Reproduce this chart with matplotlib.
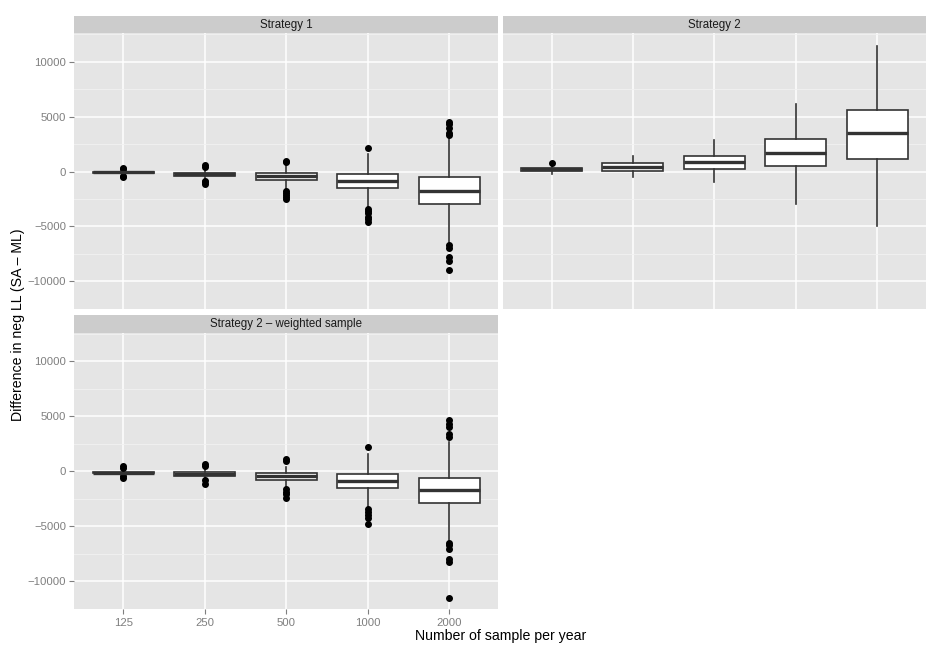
import matplotlib
matplotlib.use("Agg")
import matplotlib.pyplot as plt
from matplotlib.ticker import FixedLocator

plt.rcParams['font.family'] = ['Liberation Sans', 'DejaVu Sans']

categories = ["125", "250", "500", "1000", "2000"]
panel_titles = ["Strategy 1", "Strategy 2", "Strategy 2 \u2013 weighted sample"]

# Strategy 1
s1_q1 = [-150, -390, -790, -1545, -3000]
s1_med = [-90, -250, -450, -850, -1730]
s1_q3 = [-40, -120, -120, -240, -545]
s1_wlo = [-300, -700, -1650, -3250, -6450]
s1_whi = [120, 250, 750, 1600, 3180]
s1_fliers = [
    [330, 220, -380, -520],
    [560, 450, -850, -1000, -1150],
    [970, 900, -1800, -1950, -2100, -2300, -2500],
    [2120, -3420, -3600, -3800, -4100, -4300, -4600],
    [4550, 4330, 3940, 3550, 3330, -6670, -6970, -7820, -8120, -9000],
]

# Strategy 2
s2_q1 = [30, 90, 210, 515, 1120]
s2_med = [210, 425, 850, 1700, 3480]
s2_q3 = [360, 730, 1420, 2940, 5580]
s2_wlo = [-240, -545, -910, -2970, -4970]
s2_whi = [520, 1450, 2850, 6120, 11420]
s2_fliers = [[820], [], [], [], []]

# Strategy 2 - weighted sample
s3_q1 = [-210, -420, -820, -1545, -2910]
s3_med = [-150, -240, -450, -910, -1760]
s3_q3 = [-60, -60, -150, -240, -600]
s3_wlo = [-350, -700, -1450, -3270, -6300]
s3_whi = [150, 250, 360, 1580, 2640]
s3_fliers = [
    [420, 300, -450, -600],
    [670, 420, -850, -1150],
    [1120, 900, -1670, -1900, -2100, -2420],
    [2150, -3420, -3700, -4000, -4300, -4790],
    [4600, 4300, 4000, 3330, 3090, -6520, -6760, -7060, -7970, -8270, -11500],
]

series = [
    (s1_q1, s1_med, s1_q3, s1_wlo, s1_whi, s1_fliers),
    (s2_q1, s2_med, s2_q3, s2_wlo, s2_whi, s2_fliers),
    (s3_q1, s3_med, s3_q3, s3_wlo, s3_whi, s3_fliers),
]

W, H = 943, 654
fig = plt.figure(figsize=(W / 100, H / 100), dpi=100)

def rect(l, t, r, b):
    return [l / W, 1 - b / H, (r - l) / W, (b - t) / H]

panels = [
    (74.3, 33.3, 498.3, 309.5),
    (502.7, 33.3, 926.0, 309.5),
    (74.3, 332.7, 498.3, 609.3),
]
strip_h = 17.3

grey50 = "#7F7F7F"
ylim = (-12560, 12580)

for i, ((l, t, r, b), title, data) in enumerate(zip(panels, panel_titles, series)):
    ax = fig.add_axes(rect(l, t, r, b))
    ax.set_facecolor("#E5E5E5")
    q1, med, q3, wlo, whi, fl = data
    stats = []
    for k in range(len(categories)):
        stats.append(dict(q1=q1[k], med=med[k], q3=q3[k], whislo=wlo[k],
                          whishi=whi[k], fliers=fl[k], label=categories[k]))
    ax.bxp(stats, positions=range(1, len(categories) + 1), widths=0.75,
           showcaps=False, patch_artist=True,
           boxprops=dict(facecolor="white", edgecolor="#333333", linewidth=1.2),
           whiskerprops=dict(color="#333333", linewidth=1.2),
           medianprops=dict(color="#333333", linewidth=2.4, solid_capstyle="butt"),
           flierprops=dict(marker="o", markerfacecolor="black",
                           markeredgecolor="black", markersize=4.0, linestyle="none"),
           zorder=3)
    ax.set_xlim(0.4, len(categories) + 0.6)
    ax.set_ylim(*ylim)
    ax.yaxis.set_major_locator(FixedLocator([-10000, -5000, 0, 5000, 10000]))
    ax.yaxis.set_minor_locator(FixedLocator([-12500, -7500, -2500, 2500, 7500, 12500]))
    ax.grid(True, which="major", color="white", linewidth=1.1, zorder=0)
    ax.grid(True, which="minor", axis="y", color="#F2F2F2", linewidth=0.6, zorder=0)
    ax.set_axisbelow(True)
    for s in ax.spines.values():
        s.set_visible(False)
    ax.tick_params(axis="both", which="minor", length=0)
    ax.tick_params(axis="both", which="major", color=grey50, labelcolor=grey50,
                   labelsize=8.2, length=3.5, width=0.8, pad=2.5)
    ax.set_xticks(range(1, len(categories) + 1))
    if i == 2:
        ax.set_xticklabels(categories)
    else:
        ax.tick_params(axis="x", which="major", length=0, labelbottom=False)
    if i == 1:
        ax.tick_params(axis="y", which="major", length=0, labelleft=False)

    sax = fig.add_axes(rect(l, t - strip_h, r, t))
    sax.set_facecolor("#CCCCCC")
    sax.set_xticks([])
    sax.set_yticks([])
    for s in sax.spines.values():
        s.set_visible(False)
    sax.text(0.5, 0.5, title, ha="center", va="center", fontsize=8.3,
             color="#1A1A1A", transform=sax.transAxes)

fig.text((74.3 + 926.0) / 2 / W, 1 - 636 / H, "Number of sample per year",
         ha="center", va="center", fontsize=10.2, color="black")
fig.text(18 / W, 1 - 325 / H, "Difference in neg LL (SA \u2013 ML)",
         ha="center", va="center", rotation=90, fontsize=10.2, color="black")

fig.savefig("out.png", dpi=100, facecolor="white")
